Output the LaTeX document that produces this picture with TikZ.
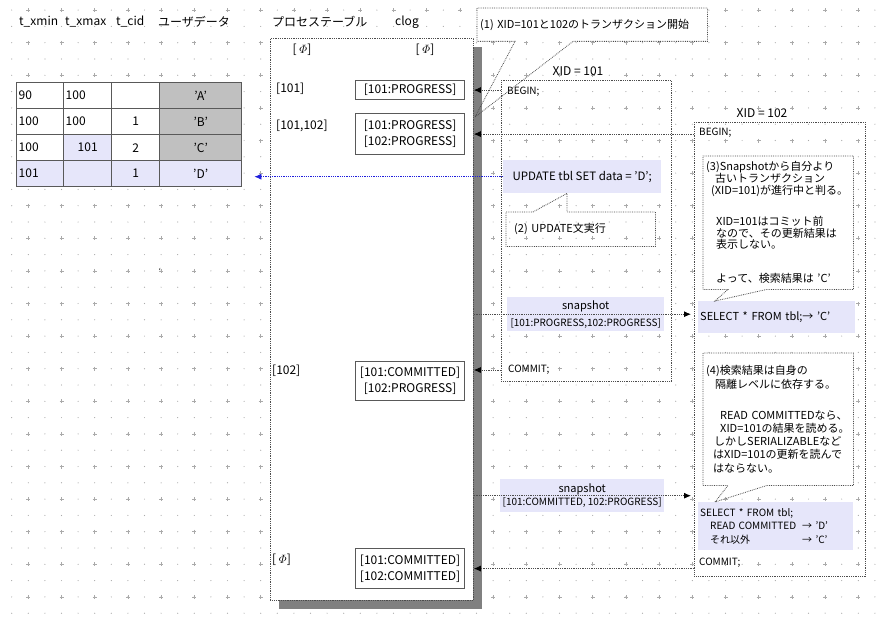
\documentclass[tikz,border=0pt]{standalone}
\usepackage{amsmath}
\usepackage{fontspec}
\setmainfont{Noto Sans CJK JP}
\usetikzlibrary{positioning, arrows.meta, shadows}
\definecolor{lav}{RGB}{230,230,250}
\definecolor{cellgray}{RGB}{192,192,192}
\definecolor{linkblue}{RGB}{30,30,220}
\definecolor{dotc}{RGB}{170,170,170}
\tikzset{
>={Latex[length=7pt, width=6pt, color=black]}, % solid black arrow heads
every node/.style={font=\fontsize{12}{16}\selectfont, inner sep=2pt}, % default text
hdr/.style={anchor=west}, % column titles above the table and the process box
cell/.style={draw=black!65, line width=1.4pt, fill=white, anchor=north west, minimum height=26pt}, % table cells
procbox/.style={draw=black!70, densely dotted, line width=0.8pt, fill=white, anchor=north west,
  drop shadow={shadow xshift=9pt, shadow yshift=-9pt, fill=gray, opacity=1}}, % process table with its shadow
clogbox/.style={draw=black!65, line width=1.2pt, fill=white, anchor=north west, minimum width=109pt, align=center, inner sep=1pt}, % clog entries
xidbox/.style={draw=black!70, densely dotted, line width=0.8pt, anchor=north west}, % one transaction
code/.style={anchor=west, font=\fontsize{10}{12}\selectfont}, % BEGIN; COMMIT;
hilite/.style={fill=lav, anchor=north west, font=\fontsize{10}{13}\selectfont}, % lavender statements
notetext/.style={anchor=north west, align=left, inner sep=3pt, font=\fontsize{11}{12}\selectfont}, % text of the notes
note/.style={draw=black!70, densely dotted, line width=0.8pt}, % outline of the notes
ptr/.style={->, draw=black!70, densely dotted, line width=0.8pt}, % dotted arrows
}

\begin{document}
\begin{tikzpicture}[x=1pt, y=-1pt]
    \useasboundingbox (0,0) rectangle (877,618);
    % dotted paper
    \foreach \i in {0,...,52}
        \foreach \j in {0,...,37}
            \fill[dotc] (11.7+16.6*\i, 10.1+16.3*\j) circle (0.6pt);
    \foreach \i in {1,3,...,51}
        \foreach \j in {0,2,...,36}
            \draw[dotc, line width=0.6pt] (11.7+16.6*\i, 10.1+16.3*\j) +(-2,0) -- +(2,0) +(0,-2) -- +(0,2);

    % headings
    \node[hdr] (hxmin) at (17,22) {t\_xmin};
    \node[hdr] (hxmax) at (63,22) {t\_xmax};
    \node[hdr] (hcid) at (114,22) {t\_cid};
    \node[hdr] (hdata) at (156,22) {ユーザデータ};
    \node[hdr] (hproc) at (270,22) {プロセステーブル};
    \node[hdr] (hclog) at (393,22) {clog};

    % tuples
    \node[cell, minimum width=47pt, text width=43pt, align=left] (t11) at (16,82) {90};
    \node[cell, minimum width=48pt, text width=44pt, align=left] (t12) at (63,82) {100};
    \node[cell, minimum width=48pt] (t13) at (111,82) {};
    \node[cell, minimum width=82pt, fill=cellgray] (t14) at (159,82) {’A’};
    \node[cell, minimum width=47pt, text width=43pt, align=left] (t21) at (16,108) {100};
    \node[cell, minimum width=48pt, text width=44pt, align=left] (t22) at (63,108) {100};
    \node[cell, minimum width=48pt] (t23) at (111,108) {1};
    \node[cell, minimum width=82pt, fill=cellgray] (t24) at (159,108) {’B’};
    \node[cell, minimum width=47pt, text width=43pt, align=left] (t31) at (16,134) {100};
    \node[cell, minimum width=48pt, fill=lav] (t32) at (63,134) {101};
    \node[cell, minimum width=48pt] (t33) at (111,134) {2};
    \node[cell, minimum width=82pt, fill=cellgray] (t34) at (159,134) {’C’};
    \node[cell, minimum width=47pt, text width=43pt, align=left, fill=lav] (t41) at (16,160) {101};
    \node[cell, minimum width=48pt, fill=lav] (t42) at (63,160) {};
    \node[cell, minimum width=48pt, fill=lav] (t43) at (111,160) {1};
    \node[cell, minimum width=82pt, fill=lav] (t44) at (159,160) {’D’};
    \node[font=\fontsize{8}{8}\selectfont] (tick) at (160,271) {`};

    % process table and clog
    \node[procbox, minimum width=203pt, minimum height=562pt] (proc) at (270,38) {};
    \node (p0) at (302,50) {[ $\varPhi$]};
    \node (c0) at (425,50) {[ $\varPhi$]};
    \node[hdr] (p1) at (274,89) {[101]};
    \node[hdr] (p2) at (274,126) {[101,102]};
    \node[hdr] (p3) at (270,371) {[102]};
    \node[hdr] (p4) at (270,560) {[ $\varPhi$]};
    \node[clogbox, minimum height=19pt] (clog1) at (355,80) {[101:PROGRESS]};
    \node[clogbox, minimum height=41pt] (clog2) at (355,113) {[101:PROGRESS]\\{}[102:PROGRESS]};
    \node[clogbox, minimum height=39pt] (clog3) at (355,361) {[101:COMMITTED]\\{}[102:PROGRESS]};
    \node[clogbox, minimum height=40pt] (clog4) at (355,548) {[101:COMMITTED]\\{}[102:COMMITTED]};

    % transaction 101
    \node[xidbox, minimum width=170pt, minimum height=301pt] (xidA) at (501,80) {};
    \node (labA) at (578,71) {XID = 101};
    \node[code] (beginA) at (505,92) {BEGIN;};
    \node[hilite, minimum width=158pt, minimum height=33pt, font=\fontsize{11.5}{13}\selectfont] (upd) at (503,160) {UPDATE tbl SET data = 'D';};
    \node[notetext, minimum width=149pt, minimum height=34pt, text width=133pt, inner xsep=8pt] (n2) at (506,212) {(2)~UPDATE文実行};
    \node[hilite, minimum width=157pt, minimum height=34pt, align=center, font=\fontsize{10}{17}\selectfont] (snap1) at (507,297) {{\fontsize{11}{13}\selectfont snapshot}\\{}[101:PROGRESS,102:PROGRESS]};
    \node[code] (commitA) at (506,370) {COMMIT;};

    % transaction 102
    \node[xidbox, minimum width=171pt, minimum height=454pt] (xidB) at (694,122) {};
    \node (labB) at (762,113) {XID = 102};
    \node[code] (beginB) at (697,133) {BEGIN;};
    \node[hilite, minimum width=157pt, minimum height=32pt, text width=153pt, align=left, font=\fontsize{11}{13}\selectfont] (sel1) at (698,301) {SELECT * FROM tbl;→ 'C'};
    \node[hilite, minimum width=155pt, minimum height=48pt, text width=151pt, align=left, font=\fontsize{10}{13.5}\selectfont] (sel2) at (698,502)
        {SELECT * FROM tbl;\\ \hspace*{10pt}\makebox[92pt][l]{READ COMMITTED}→ 'D'\\ \hspace*{10pt}\makebox[92pt][l]{それ以外}→ 'C'};
    \node[code] (commitB) at (697,563) {COMMIT;};
    \node[hilite, minimum width=164pt, minimum height=33pt, align=center, font=\fontsize{10}{13}\selectfont] (snap2) at (500,479) {{\fontsize{11}{13}\selectfont snapshot}\\{}[101:COMMITTED, 102:PROGRESS]};

    % notes
    \node[notetext, fill=white, minimum width=230pt, minimum height=33pt, text width=224pt] (n1) at (477,8) {(1)~XID=101と102のトランザクション開始};
    \coordinate (tip1) at (475,117);
    \draw[note] (n1.south west) |- (n1.north east) |- ([xshift=96pt]n1.south west) -- (tip1) -- ([xshift=38pt]n1.south west) -- cycle;
    \draw[note] (n2.north west) -- ([xshift=27pt]n2.north west) -- ([xshift=64pt]upd.south west) -- ([xshift=61pt]n2.north west) -- (n2.north east) |- (n2.south west) -- cycle;
    \node[notetext, fill=white, minimum width=150pt, minimum height=133pt, text width=144pt, font=\fontsize{11}{11.8}\selectfont] (n3) at (703,156)
        {(3)Snapshotから自分より\\
        \hspace*{9pt}古いトランザクション\\
        \hspace*{5pt}(XID=101)が進行中と判る。\\[19pt]
        \hspace*{10pt}XID=101はコミット前\\
        \hspace*{10pt}なので、その更新結果は\\
        \hspace*{10pt}表示しない。\\[22pt]
        \hspace*{10pt}よって、検索結果は~'C'};
    \draw[note] (n3.south west) |- (n3.north east) |- ([xshift=64pt]n3.south west) -- ([xshift=17pt]sel1.north west) -- ([xshift=25pt]n3.south west) -- cycle;
    \node[notetext, fill=white, minimum width=150pt, minimum height=132pt, text width=144pt, font=\fontsize{11}{13.2}\selectfont] (n4) at (703,353)
        {(4)検索結果は自身の\\
        \hspace*{9pt}隔離レベルに依存する。\\[18pt]
        \hspace*{14pt}READ~COMMITTEDなら、\\
        \hspace*{14pt}XID=101の結果を読める。\\
        \hspace*{8pt}しかしSERIALIZABLEなど\\
        \hspace*{7pt}はXID=101の更新を読んで\\
        \hspace*{7pt}はならない。};
    \draw[note] (n4.south west) |- (n4.north east) |- ([xshift=64pt]n4.south west) -- ([xshift=17pt]sel2.north west) -- ([xshift=25pt]n4.south west) -- cycle;

    % arrows
    \draw[ptr] (xidA.west |- clog1) -- (proc.east |- clog1);
    \draw[ptr] (xidB.west |- clog2) -- (proc.east |- clog2);
    \draw[->, >={Latex[length=7pt, width=6pt]}, draw=linkblue, densely dotted, line width=0.8pt, shorten >=12pt] (upd.west) -- (upd.west -| t44.east);
    \draw[ptr, shorten >=7pt] (proc.east |- snap1) -- (sel1.west |- snap1);
    \draw[ptr] (xidA.west |- commitA) -- (proc.east |- commitA);
    \draw[ptr, shorten >=7pt] (proc.east |- snap2) -- (sel2.west |- snap2);
    \draw[ptr] (xidB.west |- clog4) -- (proc.east |- clog4);
\end{tikzpicture}
\end{document}
